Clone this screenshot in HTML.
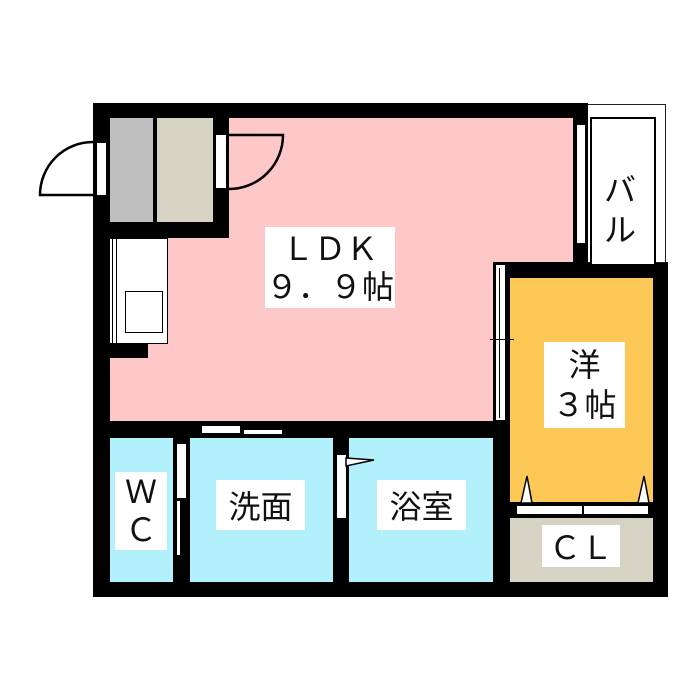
<!DOCTYPE html>
<html><head><meta charset="utf-8"><style>
body{margin:0;background:#fff;}
#c{position:relative;width:700px;height:700px;overflow:hidden;background:#fff;font-family:"Liberation Sans","Noto Sans CJK JP",sans-serif;}
.a{position:absolute;}
.k{background:#000;}
.w{background:#fff;}
.t{position:absolute;background:#fff;color:#111;text-align:center;display:flex;align-items:center;justify-content:center;}
</style></head><body><div id="c">
<!-- black walls base -->
<div class="a k" style="left:93px;top:103px;width:495px;height:494px"></div>
<div class="a k" style="left:493px;top:262px;width:175px;height:335px"></div>
<!-- balcony -->
<div class="a" style="left:588px;top:104px;width:77px;height:157px;border:1px solid #222;border-left:none;background:#fff"></div>
<div class="a" style="left:590px;top:117px;width:62px;height:145px;border:2px solid #000;border-bottom:none;background:#fff"></div>
<div class="a w" style="left:577px;top:125px;width:8px;height:118px;outline:1px solid #000"></div>
<!-- LDK -->
<div class="a" style="left:229px;top:118px;width:344px;height:144px;background:#fec8c8"></div>
<div class="a" style="left:110px;top:238px;width:383px;height:183px;background:#fec8c8"></div>
<div class="a" style="left:229px;top:238px;width:264px;height:24px;background:#fec8c8"></div>
<div class="a" style="left:229px;top:262px;width:264px;height:159px;background:#fec8c8"></div>
<!-- top-left boxes -->
<div class="a" style="left:110px;top:118px;width:43px;height:104px;background:#bfbfbf"></div>
<div class="a" style="left:157px;top:118px;width:56px;height:104px;background:#d6d3c4"></div>
<div class="a k" style="left:213px;top:103px;width:16px;height:135px"></div>
<!-- kitchen -->
<div class="a w" style="left:110px;top:238px;width:57px;height:104px;border:1px solid #000;border-left:none"></div>
<div class="a k" style="left:112px;top:238px;width:1px;height:105px"></div>
<div class="a k" style="left:116px;top:238px;width:1px;height:105px"></div>
<div class="a" style="left:125px;top:291px;width:36px;height:40px;border:1.5px solid #000"></div>
<div class="a k" style="left:110px;top:343px;width:38px;height:15px"></div>
<!-- 洋 -->
<div class="a" style="left:510px;top:278px;width:143px;height:224px;background:#fdc855"></div>
<div class="a" style="left:510px;top:518px;width:143px;height:64px;background:#d6d3c4"></div>
<div class="a w" style="left:517px;top:506px;width:65px;height:8px;outline:1px solid #000"></div>
<div class="a w" style="left:584px;top:506px;width:64px;height:8px;outline:1px solid #000"></div>
<!-- bottom rooms -->
<div class="a" style="left:110px;top:438px;width:63px;height:144px;background:#b2f0fb"></div>
<div class="a" style="left:190px;top:438px;width:143px;height:144px;background:#b2f0fb"></div>
<div class="a" style="left:349px;top:438px;width:144px;height:144px;background:#b2f0fb"></div>
<!-- sliding door LDK/洋 -->
<div class="a w" style="left:495px;top:265px;width:9px;height:155px;border-left:1px solid #000;border-right:1px solid #000"></div>
<div class="a k" style="left:499px;top:268px;width:1px;height:150px"></div>
<div class="a k" style="left:490px;top:339px;width:24px;height:1px"></div>
<!-- door bars -->
<div class="a w" style="left:202px;top:426px;width:38px;height:7px"></div>
<div class="a w" style="left:244px;top:430px;width:38px;height:4px"></div>
<div class="a w" style="left:177px;top:444px;width:9px;height:54px"></div>
<div class="a w" style="left:177px;top:501px;width:3px;height:54px"></div>
<div class="a w" style="left:337px;top:455px;width:9px;height:63px"></div>
<div class="a w" style="left:97px;top:143px;width:9px;height:52px"></div>
<div class="a w" style="left:216px;top:135px;width:10px;height:53px"></div>
<svg class="a" style="left:0;top:0" width="700" height="700">
<path d="M93 195 H40 A53 53 0 0 1 93 142" fill="#fff" stroke="#000" stroke-width="2.5"/>
<path d="M229 135 H283 A54 54 0 0 1 229 189" fill="none" stroke="#000" stroke-width="2.5"/>
<path d="M346 458 L374 460 L346 466 Z" fill="#fff" stroke="#000" stroke-width="1.5"/>
<path d="M521 503 L527 476 L532 503 Z" fill="#fff" stroke="#000" stroke-width="1.5"/>
<path d="M638 503 L644 476 L649 503 Z" fill="#fff" stroke="#000" stroke-width="1.5"/>
</svg>
<!-- labels -->
<div class="t" style="left:265px;top:227px;width:130px;height:81px;font-size:32px;line-height:38px;flex-direction:column">ＬＤＫ<br>９．９帖</div>
<div class="t" style="left:544px;top:342px;width:81px;height:86px;font-size:32px;line-height:40px;flex-direction:column">洋<br>３帖</div>
<div class="t" style="left:595px;top:168px;width:50px;height:84px;font-size:32px;line-height:40px;flex-direction:column;background:transparent">バ<br>ル</div>
<div class="t" style="left:115px;top:472px;width:52px;height:78px;font-size:32px;line-height:38px;flex-direction:column">Ｗ<br>Ｃ</div>
<div class="t" style="left:216px;top:480px;width:89px;height:50px;font-size:32px">洗面</div>
<div class="t" style="left:377px;top:480px;width:89px;height:50px;font-size:32px">浴室</div>
<div class="t" style="left:542px;top:525px;width:78px;height:42px;font-size:32px">ＣＬ</div>
</div></body></html>
